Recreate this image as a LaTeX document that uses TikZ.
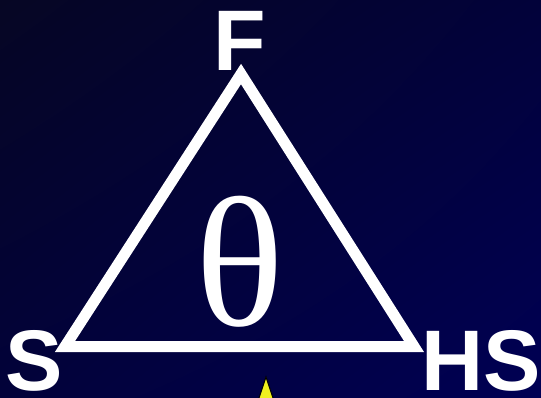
\documentclass[tikz,border=0pt]{standalone}
\usepackage{fontspec}
\setmainfont{Liberation Serif}
\newfontfamily\labelfont{Liberation Sans}
\usetikzlibrary{arrows.meta,positioning,calc,shadings}
\definecolor{NightTop}{RGB}{6,6,36}
\definecolor{NightMid}{RGB}{2,2,58}
\definecolor{NightLow}{RGB}{0,0,84}
\definecolor{MarkYellow}{RGB}{240,240,30}
\tikzset{
  vertexlabel/.style={text=white,inner sep=0pt,anchor=base,font=\labelfont\bfseries\fontsize{86}{90}\selectfont},
  phaseedge/.style={draw=white,line width=11pt,miter limit=10}
}

\begin{document}
\begin{tikzpicture}[x=1pt,y=1pt]
  \useasboundingbox (0,0) rectangle (541,397);
  \clip (0,0) rectangle (541,397);
  \shade[upper left=NightTop,upper right=NightMid,lower left=NightMid,lower right=NightLow]
    (0,0) rectangle (541,397);
  % corners of the phase triangle
  \coordinate (apex) at (241,323);
  \coordinate (sw) at (65,50.5);
  \coordinate (se) at (414,50.5);
  \draw[phaseedge] (apex) -- (se) -- (sw) -- cycle;
  \node[vertexlabel] (fuel) at (239.6,326.5) {F};
  \node[vertexlabel] (solid) at (34,7) {S};
  \node[vertexlabel] (hs) at (481,7) {HS};
  \node[text=white,inner sep=0pt,font=\fontsize{185}{190}\selectfont] (theta) at (240,135) {θ};
  % pointer entering from below
  \coordinate (tip) at (266,20);
  \filldraw[fill=MarkYellow,draw=black,line width=1pt] (tip) -- ++(10,-30) -- ++(-20,0) -- cycle;
\end{tikzpicture}
\end{document}
